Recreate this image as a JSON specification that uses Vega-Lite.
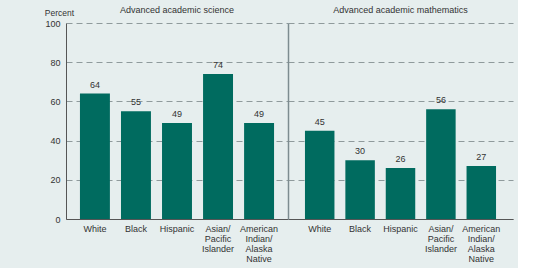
{
  "$schema": "https://vega.github.io/schema/vega-lite/v6.json",
  "background": "#e6eeee",
  "padding": {"left": 44, "top": 6, "right": 5, "bottom": 5},
  "spacing": 0,
  "data": {"values": [
    {"subject": "science", "group": "White", "value": 64},
    {"subject": "science", "group": "Black", "value": 55},
    {"subject": "science", "group": "Hispanic", "value": 49},
    {"subject": "science", "group": "Asian/|Pacific|Islander", "value": 74},
    {"subject": "science", "group": "American|Indian/|Alaska|Native", "value": 49},
    {"subject": "math", "group": "White", "value": 45},
    {"subject": "math", "group": "Black", "value": 30},
    {"subject": "math", "group": "Hispanic", "value": 26},
    {"subject": "math", "group": "Asian/|Pacific|Islander", "value": 56},
    {"subject": "math", "group": "American|Indian/|Alaska|Native", "value": 27}
  ]},
  "config": {
    "view": {"stroke": null},
    "font": "Liberation Sans",
    "axis": {"labelColor": "#333333", "labelFontSize": 9, "titleColor": "#333333", "titleFontSize": 8.5, "titleFontWeight": "normal"},
    "title": {"fontSize": 9, "fontWeight": "normal", "color": "#333333"}
  },
  "hconcat": [
    {
      "width": 222,
      "height": 196,
      "title": {"text": "Advanced academic science", "offset": -7},
      "transform": [{"filter": "datum.subject == 'science'"}],
      "encoding": {
        "x": {"field": "group", "type": "nominal", "sort": null,
          "scale": {"paddingInner": 0.27, "paddingOuter": 0.34},
          "axis": {"title": null, "labelAngle": 0, "ticks": false, "labelPadding": 5, "labelLineHeight": 10, "labelExpr": "split(datum.label, '|')", "domainColor": "#555555", "labelBaseline": "top"}},
        "y": {"field": "value", "type": "quantitative", "scale": {"domain": [0, 100]},
          "axis": {"values": [0, 20, 40, 60, 80, 100], "grid": true, "gridDash": [6, 4], "gridColor": "#8f9a9c", "ticks": false, "labelPadding": 6, "domainColor": "#555555",
            "title": "Percent", "titleAngle": 0, "titleX": -7, "titleY": -6, "titleAlign": "center", "titleBaseline": "bottom"}}
      },
      "layer": [
        {"mark": {"type": "bar", "color": "#006b5f"}},
        {"mark": {"type": "text", "dy": -4, "baseline": "bottom", "fontSize": 9, "color": "#333333"}, "encoding": {"text": {"field": "value", "type": "quantitative"}}}
      ]
    },
    {
      "width": 225,
      "height": 196,
      "title": {"text": "Advanced academic mathematics", "offset": 8},
      "transform": [{"filter": "datum.subject == 'math'"}],
      "encoding": {
        "x": {"field": "group", "type": "nominal", "sort": null,
          "scale": {"paddingInner": 0.27, "paddingOuter": 0.42},
          "axis": {"title": null, "labelAngle": 0, "ticks": false, "labelPadding": 5, "labelLineHeight": 10, "labelExpr": "split(datum.label, '|')", "domainColor": "#555555", "labelBaseline": "top"}},
        "y": {"field": "value", "type": "quantitative", "scale": {"domain": [0, 100]},
          "axis": {"values": [0, 20, 40, 60, 80, 100], "grid": true, "gridDash": [6, 4], "gridColor": "#8f9a9c", "ticks": false, "labels": false, "domainColor": "#7d8c90", "domainWidth": 1.5, "title": null}}
      },
      "layer": [
        {"mark": {"type": "bar", "color": "#006b5f"}},
        {"mark": {"type": "text", "dy": -4, "baseline": "bottom", "fontSize": 9, "color": "#333333"}, "encoding": {"text": {"field": "value", "type": "quantitative"}}}
      ]
    }
  ]
}
